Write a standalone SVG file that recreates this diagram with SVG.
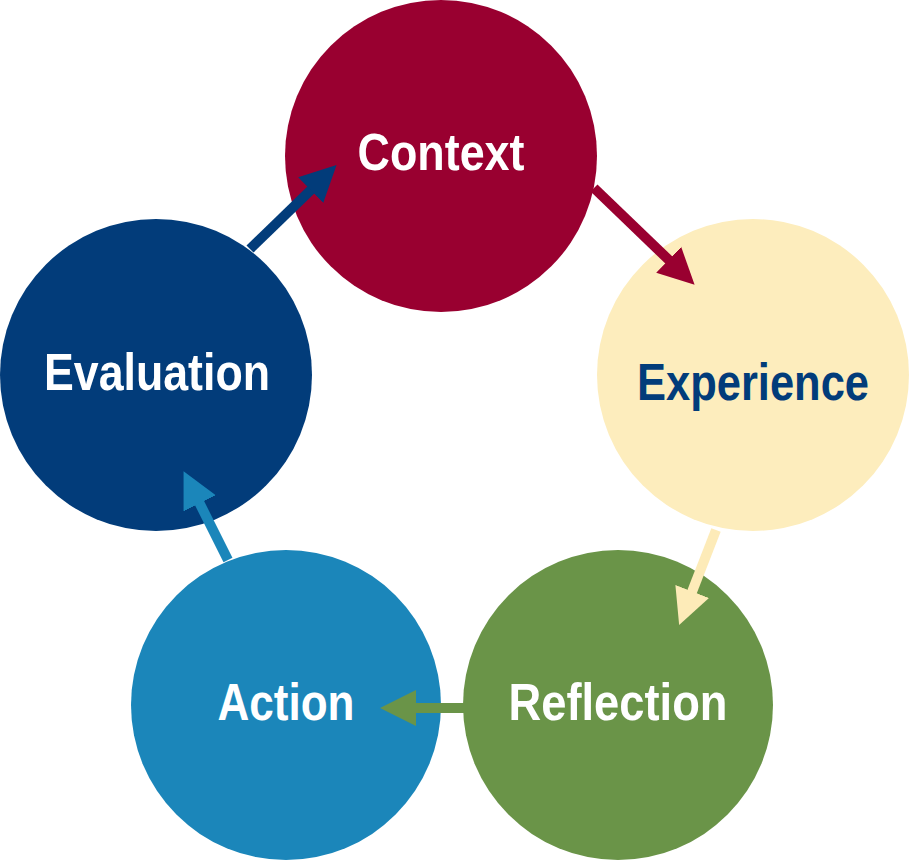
<svg xmlns="http://www.w3.org/2000/svg" width="910" height="861" viewBox="0 0 910 861">
<defs>
<style>
.lbl{font-family:"Liberation Sans",Arial,sans-serif;font-weight:bold;font-size:52px;text-anchor:middle}
.w{fill:#fff}
.c{stroke-width:10;fill:none}
</style>
<marker id="mR" markerUnits="userSpaceOnUse" markerWidth="40" markerHeight="40" refX="6" refY="20" orient="auto"><path d="M0,2 L36,20 L0,38 Z" fill="#990030"/></marker>
<marker id="mY" markerUnits="userSpaceOnUse" markerWidth="40" markerHeight="40" refX="6" refY="20" orient="auto"><path d="M0,2 L36,20 L0,38 Z" fill="#FDEBB8"/></marker>
<marker id="mG" markerUnits="userSpaceOnUse" markerWidth="40" markerHeight="40" refX="6" refY="20" orient="auto"><path d="M0,2 L36,20 L0,38 Z" fill="#6A9448"/></marker>
<marker id="mB" markerUnits="userSpaceOnUse" markerWidth="40" markerHeight="40" refX="6" refY="20" orient="auto"><path d="M0,2 L36,20 L0,38 Z" fill="#1B86BA"/></marker>
<marker id="mN" markerUnits="userSpaceOnUse" markerWidth="40" markerHeight="40" refX="6" refY="20" orient="auto"><path d="M0,2 L36,20 L0,38 Z" fill="#023C7A"/></marker>
</defs>
<g id="context"><circle cx="441" cy="156" r="156" fill="#990030"/><text class="lbl w" x="441" y="170" textLength="167" lengthAdjust="spacingAndGlyphs">Context</text></g>
<g id="experience"><circle cx="753" cy="375" r="156" fill="#FDEDBD"/><text class="lbl" fill="#023C7A" x="753" y="400" textLength="232" lengthAdjust="spacingAndGlyphs">Experience</text></g>
<g id="reflection"><circle cx="618" cy="705" r="155" fill="#6A9448"/><text class="lbl w" x="618" y="720" textLength="219" lengthAdjust="spacingAndGlyphs">Reflection</text></g>
<g id="action"><circle cx="286" cy="705" r="155" fill="#1B86BA"/><text class="lbl w" x="286" y="720" textLength="137" lengthAdjust="spacingAndGlyphs">Action</text></g>
<g id="evaluation"><circle cx="156" cy="375" r="156" fill="#023C7A"/><text class="lbl w" x="157" y="390" textLength="226" lengthAdjust="spacingAndGlyphs">Evaluation</text></g>
<g id="connectors">
<line class="c" x1="594" y1="188" x2="673" y2="264" stroke="#990030" marker-end="url(#mR)"/>
<line class="c" x1="716" y1="530" x2="690" y2="597" stroke="#FDEBB8" marker-end="url(#mY)"/>
<line class="c" x1="464" y1="708" x2="410" y2="708" stroke="#6A9448" marker-end="url(#mG)"/>
<line class="c" x1="228" y1="560" x2="197" y2="498" stroke="#1B86BA" marker-end="url(#mB)"/>
<line class="c" x1="250" y1="249" x2="315" y2="186" stroke="#023C7A" marker-end="url(#mN)"/>
</g>
</svg>
